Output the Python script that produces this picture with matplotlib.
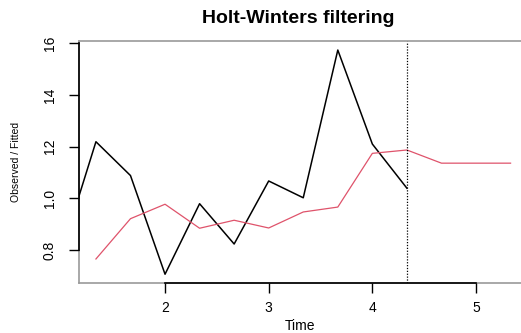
import matplotlib.pyplot as plt

# series with 3 observations per unit of time
freq = 3
start = 1.0
observed = [7.9, 12.19, 10.88, 7.06, 9.79, 8.23, 10.67, 10.02, 15.74, 12.10, 10.39]
fitted = [7.65, 9.21, 9.77, 8.84, 9.15, 8.85, 9.47, 9.66, 11.74, 11.87]
predicted = [11.36, 11.36, 11.36]

y_ticks = [8, 10, 12, 14, 16]
y_tick_labels = ['0.8', '1.0', '12', '14', '16']
x_ticks = [2, 3, 4, 5]

OBS_COLOR = '#000000'
FIT_COLOR = '#DF536B'
BOX_COLOR = '#9a9a9a'

plt.rcParams['font.family'] = ['Liberation Sans', 'DejaVu Sans']

t_obs = [start + i / freq for i in range(len(observed))]
t_fit = t_obs[1:]
t_end = t_obs[-1]
t_pred = [t_end + (i + 1) / freq for i in range(len(predicted))]

fig = plt.figure(figsize=(5.21, 3.33), dpi=100)
ax = fig.add_axes([79 / 521, 50 / 333, 442 / 521, 242 / 333])

ax.plot(t_obs, observed, color=OBS_COLOR, lw=1.1)
# fitted values run straight on into the forecast
ax.plot(t_fit + t_pred, fitted + predicted, color=FIT_COLOR, lw=0.9)
ax.axvline(t_end, color='black', lw=0.9, linestyle=(0, (1, 1.3)))

ax.set_xlim(1.17, 5.434)
ax.set_ylim(6.72, 16.09)

# grey frame, black axis lines only across the tick range
ax.spines['right'].set_visible(False)
ax.spines['top'].set_color(BOX_COLOR)
ax.spines['top'].set_linewidth(1.2)
for s in ['left', 'bottom']:
    ax.spines[s].set_linewidth(1.2)
ax.spines['left'].set_bounds(y_ticks[0], y_ticks[-1])
ax.spines['bottom'].set_bounds(x_ticks[0], x_ticks[-1])
ax.axvline(ax.get_xlim()[0], color=BOX_COLOR, lw=1.2, zorder=0, clip_on=False)
ax.axhline(ax.get_ylim()[0], color=BOX_COLOR, lw=1.2, zorder=0, clip_on=False)

ax.set_yticks(y_ticks)
ax.set_yticklabels(y_tick_labels, rotation=90, va='center')
ax.set_xticks(x_ticks)
ax.set_xticklabels([str(x) for x in x_ticks])
ax.tick_params(axis='both', length=7, width=1, labelsize=10, pad=6)
ax.tick_params(axis='y', pad=9)

ax.set_xlabel('Time', fontsize=10, labelpad=3)
ax.set_ylabel('Observed / Fitted', fontsize=7.5, labelpad=16)
fig.text(0.573, 0.945, 'Holt-Winters filtering', ha='center', va='center',
         fontsize=14, fontweight='bold')

fig.savefig('out.png', dpi=100)
